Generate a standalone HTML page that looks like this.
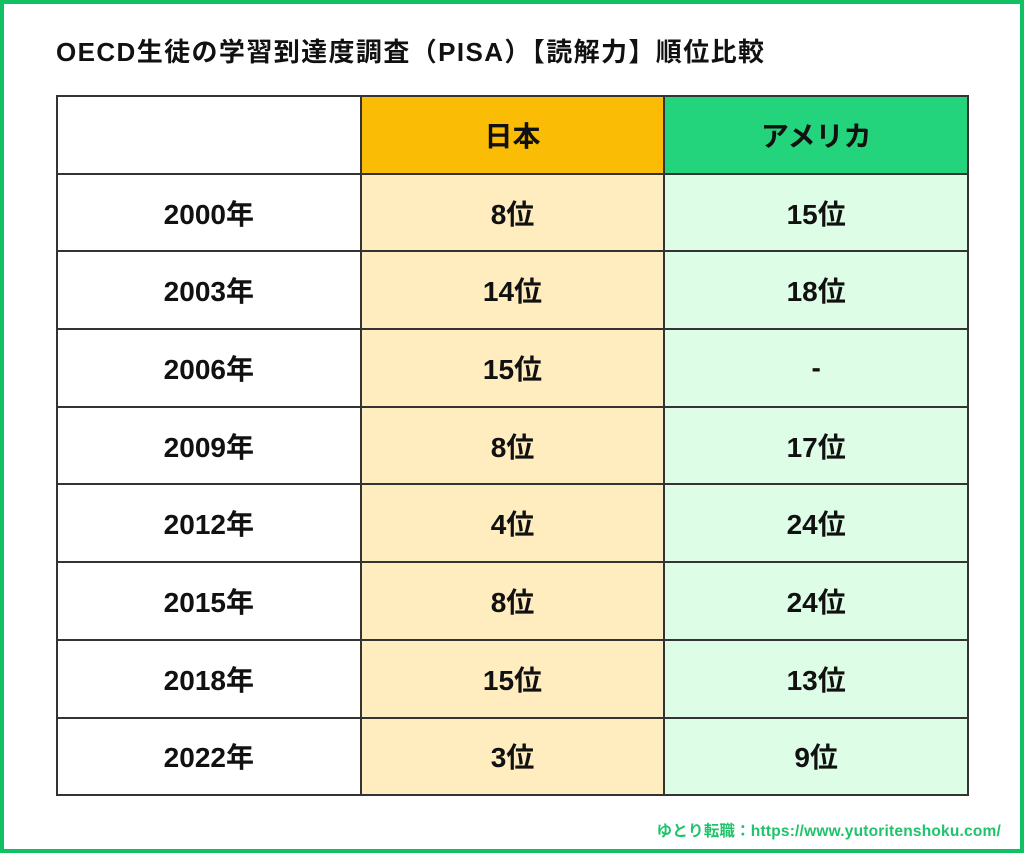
<!DOCTYPE html>
<html><head><meta charset="utf-8"><style>
body{margin:0;width:1024px;height:853px;overflow:hidden;background:#fff;font-family:"Liberation Sans","Noto Sans CJK JP",sans-serif;}
.frame{position:absolute;left:0;top:0;width:1016px;height:845px;border:4px solid #10c063;}
.title{position:absolute;left:56px;top:32px;font-size:26px;font-weight:bold;color:#111;letter-spacing:1.4px;white-space:nowrap;}
table{position:absolute;left:56px;top:95px;width:913px;height:700px;border-collapse:collapse;table-layout:fixed;}
td{border:2px solid #333;text-align:center;font-size:28px;font-weight:bold;color:#111;padding:0;}
tr{height:77.7px;}
.jh{background:#fbbc05;}.uh{background:#24d47c;}
.j{background:#ffecbf;}.u{background:#defde6;}
.foot{position:absolute;right:23px;top:819px;font-size:15.5px;font-weight:bold;color:#1ec46a;letter-spacing:0.2px;white-space:nowrap;}
</style></head><body>
<div class="frame"></div>
<div class="title">OECD生徒の学習到達度調査（PISA）【読解力】順位比較</div>
<table>
<tr><td></td><td class="jh">日本</td><td class="uh">アメリカ</td></tr>
<tr><td>2000年</td><td class="j">8位</td><td class="u">15位</td></tr>
<tr><td>2003年</td><td class="j">14位</td><td class="u">18位</td></tr>
<tr><td>2006年</td><td class="j">15位</td><td class="u">-</td></tr>
<tr><td>2009年</td><td class="j">8位</td><td class="u">17位</td></tr>
<tr><td>2012年</td><td class="j">4位</td><td class="u">24位</td></tr>
<tr><td>2015年</td><td class="j">8位</td><td class="u">24位</td></tr>
<tr><td>2018年</td><td class="j">15位</td><td class="u">13位</td></tr>
<tr><td>2022年</td><td class="j">3位</td><td class="u">9位</td></tr>
</table>
<div class="foot">ゆとり転職：https://www.yutoritenshoku.com/</div>
</body></html>
